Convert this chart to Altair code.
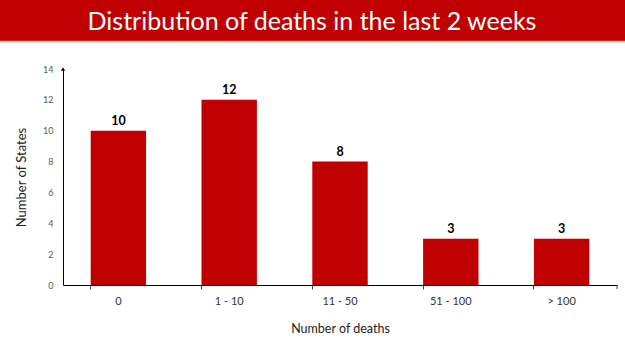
import altair as alt
import pandas as pd

categories = ["0", "1 - 10", "11 - 50", "51 - 100", "> 100"]
states = [10, 12, 8, 3, 3]
title_text = "Distribution of deaths in the last 2 weeks"

df = pd.DataFrame({"cat": categories, "n": states})
FONT = "Lato"
RED = "#C00000"

W, H = 554, 216

x = alt.X("cat:N", sort=categories, title="Number of deaths",
          scale=alt.Scale(paddingInner=0.5, paddingOuter=0.25),
          axis=alt.Axis(labelAngle=0, domainColor="black", tickColor="#404040",
                        tickSize=4, bandPosition=0, labelFontSize=11,
                        labelColor="#333333", labelFont=FONT, labelPadding=6,
                        titleFont=FONT, titleFontSize=12.5, titleFontWeight="normal",
                        titleColor="#222222", titlePadding=16))
y = alt.Y("n:Q", title="Number of States",
          scale=alt.Scale(domain=[0, 14]),
          axis=alt.Axis(values=[0, 2, 4, 6, 8, 10, 12, 14], grid=False, ticks=False,
                        labelOverlap=False, labelFlush=False,
                        domainColor="black", labelFontSize=9, labelColor="#595959",
                        labelFont=FONT, labelPadding=10, titleFont=FONT,
                        titleFontSize=13, titleFontWeight="normal",
                        titleColor="#222222", titlePadding=14))

base = alt.Chart(df)
bars = base.mark_bar(color=RED).encode(x=x, y=y)
labels = base.mark_text(dy=-10, fontWeight="bold", fontSize=12.5, font=FONT,
                        color="black").encode(x=x, y=y, text="n:Q")

one = alt.Chart(pd.DataFrame({"n": [14]}))
arrow = one.mark_point(shape="triangle-up", filled=True, color="black", size=18,
                       opacity=1).encode(x=alt.value(0), y=y)
end_tick = one.mark_rule(color="#404040").encode(
    x=alt.value(W), y=alt.value(H), y2=alt.value(H + 4))

banner = one.mark_rect(color=RED).encode(
    x=alt.value(-63), x2=alt.value(W + 8), y=alt.value(-69), y2=alt.value(-28))
banner_line = one.mark_rule(color="#F4B183", strokeWidth=1.5).encode(
    x=alt.value(-63), x2=alt.value(W + 8), y=alt.value(-27.5))
banner_text = one.mark_text(text=title_text, color="white", font=FONT,
                            fontSize=25, align="center", baseline="middle").encode(
    x=alt.value(249), y=alt.value(-47))

chart = alt.layer(banner, banner_line, banner_text, bars, labels, arrow, end_tick).properties(
    width=W, height=H,
    autosize=alt.AutoSizeParams(type="none"),
    padding={"left": 63, "top": 69, "right": 8, "bottom": 66},
    background="white",
).configure_view(stroke=None)

chart.save("out.html", embed_options={"renderer": "svg", "actions": False})
